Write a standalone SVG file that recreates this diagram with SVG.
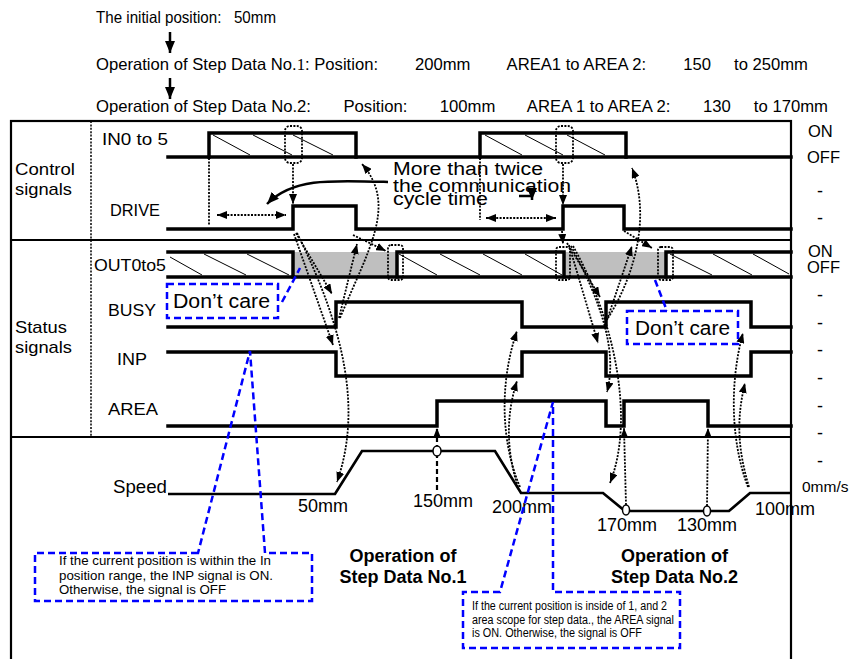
<svg xmlns="http://www.w3.org/2000/svg" width="858" height="659" viewBox="0 0 858 659">
<defs>
<style>
.t{font-family:"Liberation Sans",Arial,sans-serif;fill:#000}
.b{font-weight:bold}
.sig{fill:none;stroke:#000;stroke-width:3.5;stroke-linejoin:miter;stroke-linecap:square}
.spd{fill:none;stroke:#000;stroke-width:2.7;stroke-linejoin:miter}
.hatch{stroke:#000;stroke-width:1}
.dot{fill:none;stroke:#000;stroke-width:1.8;stroke-dasharray:2 1.4}
.dash{fill:none;stroke:#000;stroke-width:2.2;stroke-dasharray:5 3}
.blue{fill:none;stroke:#0000ff;stroke-width:2.5;stroke-dasharray:7 4}
.solid{fill:none;stroke:#000;stroke-width:2.5}
.frame{fill:none;stroke:#000;stroke-width:2.2}
.div{stroke:#000;stroke-width:2}
.gray{fill:#bfbfbf}
.mk{fill:#000}
</style>
<marker id="ah" viewBox="0 0 10 8" refX="10" refY="4" markerWidth="10" markerHeight="8" orient="auto-start-reverse" markerUnits="userSpaceOnUse"><path class="mk" d="M0,0 L10,4 L0,8 Z"/></marker>
<marker id="big" viewBox="0 0 12 10" refX="12" refY="5" markerWidth="12" markerHeight="10" orient="auto" markerUnits="userSpaceOnUse"><path class="mk" d="M0,0 L12,5 L0,10 Z"/></marker>
</defs>
<rect width="858" height="659" fill="#fff"/>

<g id="header">
<text class="t" x="96" y="23" font-size="16.5" textLength="180" lengthAdjust="spacingAndGlyphs" xml:space="preserve">The initial position:   50mm</text>
<text class="t" x="96" y="70" font-size="16.5" textLength="712" lengthAdjust="spacingAndGlyphs" xml:space="preserve">Operation of Step Data No.<tspan font-family="Liberation Serif">1</tspan>: Position:        200mm        AREA1 to AREA 2:        150     to 250mm</text>
<text class="t" x="96" y="112" font-size="16.5" textLength="732" lengthAdjust="spacingAndGlyphs" xml:space="preserve">Operation of Step Data No.2:       Position:       100mm       AREA 1 to AREA 2:       130     to 170mm</text>
<line class="solid" x1="170" y1="32" x2="170" y2="53" marker-end="url(#big)"/>
<line class="solid" x1="170" y1="78" x2="170" y2="99" marker-end="url(#big)"/>
</g>

<g id="frame">
<rect class="frame" x="11" y="121" width="780" height="560"/>
<line class="div" x1="11" y1="240" x2="791" y2="240"/>
<line class="div" x1="11" y1="437" x2="791" y2="437"/>
<line x1="91" y1="121" x2="91" y2="437" stroke="#000" stroke-width="1.5" stroke-dasharray="2 1.4"/>
</g>

<g id="row-labels">
<text class="t" x="15" y="175" font-size="17" textLength="60" lengthAdjust="spacingAndGlyphs">Control</text>
<text class="t" x="15" y="195" font-size="17" textLength="57" lengthAdjust="spacingAndGlyphs">signals</text>
<text class="t" x="15" y="333" font-size="17" textLength="52" lengthAdjust="spacingAndGlyphs">Status</text>
<text class="t" x="15" y="353" font-size="17" textLength="57" lengthAdjust="spacingAndGlyphs">signals</text>
</g>

<g id="level-labels" font-size="16.5">
<text class="t" x="808" y="137">ON</text>
<text class="t" x="807" y="163">OFF</text>
<text class="t" x="808" y="257">ON</text>
<text class="t" x="807" y="273">OFF</text>
<g font-size="18" text-anchor="middle">
<text class="t" x="820" y="197">-</text>
<text class="t" x="820" y="224">-</text>
<text class="t" x="820" y="301">-</text>
<text class="t" x="820" y="329">-</text>
<text class="t" x="820" y="356">-</text>
<text class="t" x="820" y="384">-</text>
<text class="t" x="820" y="412">-</text>
<text class="t" x="820" y="439">-</text>
<text class="t" x="820" y="467">-</text>
</g>
<text class="t" x="802" y="492" font-size="15.5">0mm/s</text>
</g>

<g id="IN">
<text class="t" x="102" y="145" font-size="17" textLength="66" lengthAdjust="spacingAndGlyphs">IN0 to 5</text>
<line class="hatch" x1="213" y1="135" x2="250" y2="155"/>
<line class="hatch" x1="253" y1="135" x2="292" y2="155"/>
<line class="hatch" x1="293" y1="135" x2="333" y2="155"/>
<line class="hatch" x1="485" y1="135" x2="522" y2="155"/>
<line class="hatch" x1="525" y1="135" x2="563" y2="155"/>
<line class="hatch" x1="567" y1="135" x2="605" y2="155"/>
<path class="sig" d="M168,157 H791"/>
<path class="sig" d="M209,157 V133 H356 V157"/>
<path class="sig" d="M480,157 V133 H626 V157"/>
</g>

<g id="DRIVE">
<text class="t" x="110" y="216" font-size="17" textLength="50" lengthAdjust="spacingAndGlyphs">DRIVE</text>
<path class="sig" d="M168,229 H293 V206 H356 V229 H563 V206 H624 V229 H791"/>
</g>

<g id="OUT">
<text class="t" x="94" y="271" font-size="17" textLength="72" lengthAdjust="spacingAndGlyphs">OUT0to5</text>
<rect class="gray" x="293" y="252" width="104" height="25"/>
<rect class="gray" x="564" y="252" width="102" height="25"/>
<line class="hatch" x1="170" y1="257" x2="202" y2="275"/>
<line class="hatch" x1="204" y1="254" x2="246" y2="275"/>
<line class="hatch" x1="247" y1="254" x2="289" y2="275"/>
<line class="hatch" x1="399" y1="254" x2="437" y2="275"/>
<line class="hatch" x1="440" y1="254" x2="480" y2="275"/>
<line class="hatch" x1="483" y1="254" x2="522" y2="275"/>
<line class="hatch" x1="525" y1="254" x2="562" y2="275"/>
<line class="hatch" x1="670" y1="254" x2="712" y2="275"/>
<line class="hatch" x1="713" y1="254" x2="752" y2="275"/>
<line class="hatch" x1="753" y1="254" x2="789" y2="274"/>
<path class="sig" d="M168,277 H791"/>
<path class="sig" d="M168,252 H293 V277"/>
<path class="sig" d="M397,277 V252 H564 V277"/>
<path class="sig" d="M666,277 V252 H791"/>
</g>

<g id="BUSY">
<text class="t" x="108" y="316" font-size="17" textLength="48" lengthAdjust="spacingAndGlyphs">BUSY</text>
<path class="sig" d="M168,327 H336 V302 H522 V327 H606 V302 H751 V327 H791"/>
</g>

<g id="INP">
<text class="t" x="117" y="365" font-size="17" textLength="30" lengthAdjust="spacingAndGlyphs">INP</text>
<path class="sig" d="M168,352 H336 V376 H522 V352 H606 V376 H751 V352 H791"/>
</g>

<g id="AREA">
<text class="t" x="108" y="415" font-size="17" textLength="50" lengthAdjust="spacingAndGlyphs">AREA</text>
<path class="sig" d="M168,426 H437 V401 H606 V426 H624 V401 H708 V426 H791"/>
</g>

<g id="Speed">
<text class="t" x="113" y="493" font-size="18" textLength="54" lengthAdjust="spacingAndGlyphs">Speed</text>
<path class="spd" d="M168,494 H335 L362,451 H495 L521,493 H603 L625,511 H729 L750,493 H791"/>
<g font-size="18">
<text class="t" x="298" y="512">50mm</text>
<text class="t" x="413" y="507">150mm</text>
<text class="t" x="492" y="513">200mm</text>
<text class="t" x="597" y="531">170mm</text>
<text class="t" x="677" y="531">130mm</text>
<text class="t" x="755" y="515">100mm</text>
</g>
</g>

<g id="step-titles" font-size="18" text-anchor="middle">
<text class="t b" x="403" y="562">Operation of</text>
<text class="t b" x="403" y="583">Step Data No.1</text>
<text class="t b" x="674.5" y="562">Operation of</text>
<text class="t b" x="674.5" y="583">Step Data No.2</text>
</g>

<g id="comm-note">
<text class="t" x="393" y="175" font-size="18" textLength="150" lengthAdjust="spacingAndGlyphs">More than twice</text>
<text class="t" x="393" y="191.5" font-size="18" textLength="178" lengthAdjust="spacingAndGlyphs">the communication</text>
<text class="t" x="393" y="205" font-size="18" textLength="95" lengthAdjust="spacingAndGlyphs">cycle time</text>
</g>

<g id="connectors">
<path class="solid" d="M388,182 C330,180 292,178 267,204" marker-end="url(#big)"/>
<path class="solid" d="M519,196 H532 V200" marker-end="url(#big)"/>
<!-- timing windows -->
<rect class="dot" x="285" y="126" width="17" height="37" rx="5"/>
<rect class="dot" x="556" y="126" width="17" height="37" rx="5"/>
<rect class="dot" x="388" y="245" width="15" height="35" rx="3"/>
<rect class="dot" x="556" y="247" width="14" height="33" rx="3"/>
<rect class="dot" x="658" y="247" width="15" height="33" rx="3"/>
<!-- step 1 -->
<line class="dot" x1="209" y1="158" x2="209" y2="226"/>
<line class="dot" x1="217" y1="215" x2="286" y2="215" marker-start="url(#ah)" marker-end="url(#ah)"/>
<line class="dot" x1="293" y1="164" x2="293" y2="204" marker-end="url(#ah)"/>
<path class="dot" d="M296,233 L332,294" marker-end="url(#ah)"/>
<path class="dot" d="M294,234 L333,345" marker-end="url(#ah)"/>
<path class="dot" d="M297,233 C345,330 362,410 337,482" marker-end="url(#ah)"/>
<path class="dot" d="M339,318 L357,244" marker-end="url(#ah)"/>
<path class="dot" d="M340,318 C368,250 398,205 362,164" marker-end="url(#ah)"/>
<path class="dot" d="M353,235 L386,251" marker-end="url(#ah)"/>
<path class="dot" d="M520,487 C500,440 500,380 517,331" marker-end="url(#ah)"/>
<path class="dot" d="M518,487 C506,450 506,415 517,381" marker-end="url(#ah)"/>
<line class="dash" x1="437" y1="490" x2="437" y2="428" marker-end="url(#ah)"/>
<!-- step 2 -->
<line class="dot" x1="480" y1="158" x2="480" y2="220"/>
<line class="dot" x1="486" y1="218" x2="556" y2="218" marker-start="url(#ah)" marker-end="url(#ah)"/>
<line class="dot" x1="563" y1="164" x2="563" y2="205" marker-end="url(#ah)"/>
<line class="dot" x1="562" y1="231" x2="563" y2="244" marker-end="url(#ah)"/>
<path class="dot" d="M567,243 L600,297" marker-end="url(#ah)"/>
<path class="dot" d="M569,245 L598,343" marker-end="url(#ah)"/>
<path class="dot" d="M571,246 C600,300 618,350 607,392" marker-end="url(#ah)"/>
<path class="dot" d="M573,246 C615,320 635,420 610,483" marker-end="url(#ah)"/>
<path class="dot" d="M607,320 L632,246" marker-end="url(#ah)"/>
<path class="dot" d="M608,318 C632,280 652,220 632,168" marker-end="url(#ah)"/>
<path class="dot" d="M624,231 L652,248" marker-end="url(#ah)"/>
<path class="dot" d="M748,487 C730,440 730,380 743,333" marker-end="url(#ah)"/>
<path class="dot" d="M749,487 C738,450 736,420 745,383" marker-end="url(#ah)"/>
<line class="dot" x1="626" y1="505" x2="624" y2="428" marker-end="url(#ah)"/>
<line class="dot" x1="707" y1="506" x2="708" y2="428" marker-end="url(#ah)"/>
<ellipse cx="437" cy="451" rx="4" ry="5" fill="#fff" stroke="#000" stroke-width="1.5"/>
<ellipse cx="626" cy="510" rx="3.5" ry="5" fill="#fff" stroke="#000" stroke-width="1.5"/>
<ellipse cx="707" cy="511" rx="3.5" ry="5" fill="#fff" stroke="#000" stroke-width="1.5"/>
</g>

<g id="dont-care-1">
<rect class="blue" x="167" y="284" width="111" height="34"/>
<line class="blue" x1="282" y1="302" x2="300" y2="268"/>
<text class="t" x="173" y="308" font-size="20" textLength="97" lengthAdjust="spacingAndGlyphs">Don’t care</text>
</g>

<g id="dont-care-2">
<rect class="blue" x="627" y="311" width="111" height="33"/>
<line class="blue" x1="655" y1="280" x2="667" y2="311"/>
<text class="t" x="635" y="335" font-size="20" textLength="95" lengthAdjust="spacingAndGlyphs">Don’t care</text>
</g>

<g id="inp-note">
<path class="blue" d="M198,553 L35,553 L35,601 L312,601 L312,553 L265,553 L250,351 Z"/>
<text class="t" x="59" y="565" font-size="13" textLength="212" lengthAdjust="spacingAndGlyphs">If the current position is within the In</text>
<text class="t" x="59" y="580" font-size="13" textLength="214" lengthAdjust="spacingAndGlyphs">position range, the INP signal is ON.</text>
<text class="t" x="59" y="594" font-size="13" textLength="167" lengthAdjust="spacingAndGlyphs">Otherwise, the signal is OFF</text>
</g>

<g id="area-note">
<path class="blue" d="M500,592 L463,592 L463,648 L680,648 L680,592 L553,592 L553,402 Z"/>
<text class="t" x="472" y="610" font-size="12" textLength="195" lengthAdjust="spacingAndGlyphs">If the current position is inside of 1, and 2</text>
<text class="t" x="472" y="624" font-size="12" textLength="202" lengthAdjust="spacingAndGlyphs">area scope for step data., the AREA signal</text>
<text class="t" x="472" y="637" font-size="12" textLength="170" lengthAdjust="spacingAndGlyphs">is ON. Otherwise, the signal is OFF</text>
</g>
</svg>
